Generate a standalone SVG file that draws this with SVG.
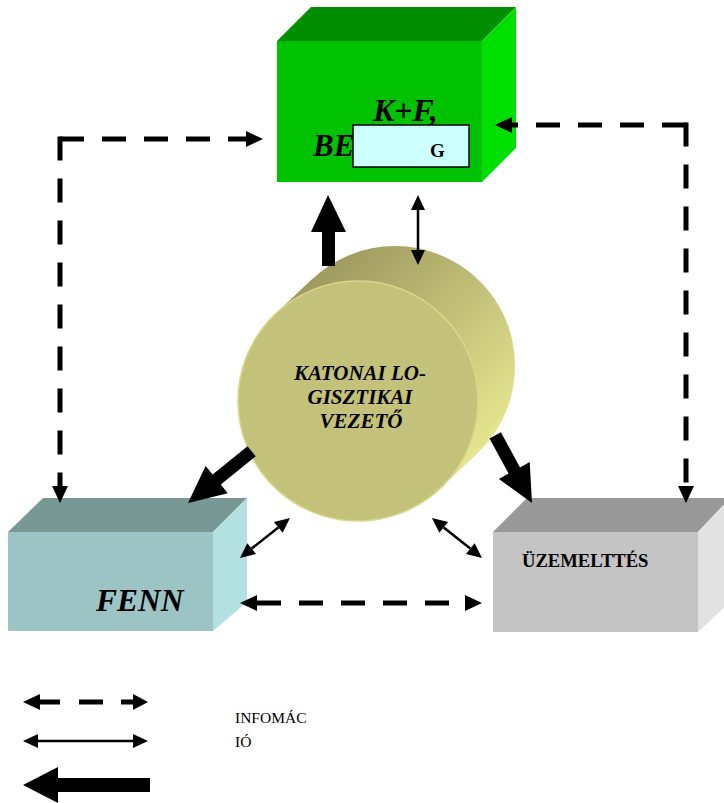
<svg xmlns="http://www.w3.org/2000/svg" width="724" height="803" viewBox="0 0 724 803">
  <style>
    .lbl { font-family: "Liberation Serif", "Times New Roman", serif; fill: #000; }
    .bi { font-weight: bold; font-style: italic; }
    .b { font-weight: bold; }
    .dash { fill: none; stroke: #000; stroke-width: 5; stroke-dasharray: 24 18; stroke-linecap: butt; }
    .thin { fill: none; stroke: #000; stroke-width: 2.5; }
    .solid { fill: #000; }
  </style>
  <defs>
    <marker id="headDash" markerUnits="userSpaceOnUse" markerWidth="17" markerHeight="16" refX="0" refY="8" orient="auto-start-reverse" overflow="visible">
      <path d="M0,0 L17,8 L0,16 z" fill="#000"/>
    </marker>
    <marker id="headThin" markerUnits="userSpaceOnUse" markerWidth="15" markerHeight="14" refX="0" refY="7" orient="auto-start-reverse" overflow="visible">
      <path d="M0,0 L15,7 L0,14 z" fill="#000"/>
    </marker>
    <linearGradient id="cylSide" gradientUnits="userSpaceOnUse" x1="300" y1="270" x2="480" y2="455">
      <stop offset="0" stop-color="#9a965e"/>
      <stop offset="0.45" stop-color="#bcb974"/>
      <stop offset="1" stop-color="#e6e690"/>
    </linearGradient>
  </defs>

  <!-- top box -->
  <g id="node-kf">
    <polygon points="277,41 311,7 516,7 482,41" fill="#008e00"/>
    <polygon points="482,41 516,7 516,148 482,182" fill="#00e000"/>
    <rect x="277" y="41" width="205" height="141" fill="#00c200"/>
    <text class="lbl bi" x="373" y="121" font-size="32">K+F,</text>
    <text class="lbl bi" x="313" y="156" font-size="31">BE</text>
    <rect x="353" y="125" width="116" height="42" fill="#ccffff" stroke="#000" stroke-width="1.5"/>
    <text class="lbl b" x="430" y="157" font-size="19">G</text>
  </g>

  <!-- left box -->
  <g id="node-fenn">
    <polygon points="8,532 43,498 247,498 213,532" fill="#789895"/>
    <polygon points="213,532 247,498 247,602 213,631" fill="#b3e1e1"/>
    <rect x="8" y="532" width="205" height="99" fill="#9cc4c4"/>
    <text class="lbl bi" x="96" y="611" font-size="31.5">FENN</text>
  </g>

  <!-- right box -->
  <g id="node-uzem">
    <polygon points="493,532 527,498 730,498 698,532" fill="#999999"/>
    <polygon points="698,532 730,498 730,602 698,632" fill="#e2e2e2"/>
    <rect x="493" y="532" width="205" height="100" fill="#c4c4c4"/>
    <text class="lbl b" x="522" y="567" font-size="18.6">ÜZEMELTTÉS</text>
  </g>

  <!-- central cylinder -->
  <g id="node-vezeto">
    <circle cx="395" cy="366" r="120" fill="url(#cylSide)"/>
    <polygon points="275.5,313.7 312.5,278.7 477.5,453.3 440.5,488.3" fill="url(#cylSide)"/>
    <circle cx="358" cy="401" r="120" fill="#c4c27a" stroke="#d8d88a" stroke-width="1.5"/>
    <text class="lbl bi" x="360" y="380" font-size="21" text-anchor="middle">KATONAI LO-</text>
    <text class="lbl bi" x="360" y="404" font-size="21" text-anchor="middle">GISZTIKAI</text>
    <text class="lbl bi" x="361" y="428" font-size="21" text-anchor="middle">VEZETŐ</text>
  </g>

  <!-- connectors -->
  <g id="connectors">
    <!-- information flows (dashed) -->
    <path class="dash" d="M60,139 H246" marker-end="url(#headDash)"/>
    <path class="dash" d="M60,136.5 V486" marker-end="url(#headDash)"/>
    <path class="dash" d="M686,125 H512" marker-end="url(#headDash)"/>
    <path class="dash" d="M686,122.5 V486" marker-end="url(#headDash)"/>
    <path class="dash" d="M257,603 H465" stroke-dasharray="21 18 23 18 24 18 23 19 25 16" marker-start="url(#headDash)" marker-end="url(#headDash)"/>

    <!-- thin two-way links -->
    <path class="thin" d="M418,210 V250" marker-start="url(#headThin)" marker-end="url(#headThin)"/>
    <path class="thin" d="M278.3,527.4 L251.7,548.6" marker-start="url(#headThin)" marker-end="url(#headThin)"/>
    <path class="thin" d="M443.7,527.4 L470.3,548.6" marker-start="url(#headThin)" marker-end="url(#headThin)"/>

    <!-- thick directives -->
    <polygon class="solid" points="322,266 322,232 311,232 328,195 346,232 335,232 335,266"/>
    <polygon class="solid" points="255.7,456.2 220.8,484.6 227.8,493.2 188,503 205.6,466 212.6,474.6 247.5,446.2"/>
    <polygon class="solid" points="500.9,432.3 520,467.4 529.7,462.1 532,503 498.9,478.9 508.6,473.6 489.5,438.5"/>
  </g>

  <!-- legend -->
  <g id="legend">
    <path d="M40,702 H60 M79,702 H103 M121,702 H133" fill="none" stroke="#000" stroke-width="5"/>
    <polygon class="solid" points="23,702 40,694 40,710"/>
    <polygon class="solid" points="148,702 133,694 133,710"/>
    <path class="thin" d="M38,741 H133" marker-start="url(#headThin)" marker-end="url(#headThin)"/>
    <polygon class="solid" points="23,785 58,767 58,778 150,778 150,792 58,792 58,803"/>
    <text class="lbl" x="235" y="723" font-size="15.5">INFOMÁC</text>
    <text class="lbl" x="235" y="747" font-size="15.5">IÓ</text>
  </g>
</svg>
